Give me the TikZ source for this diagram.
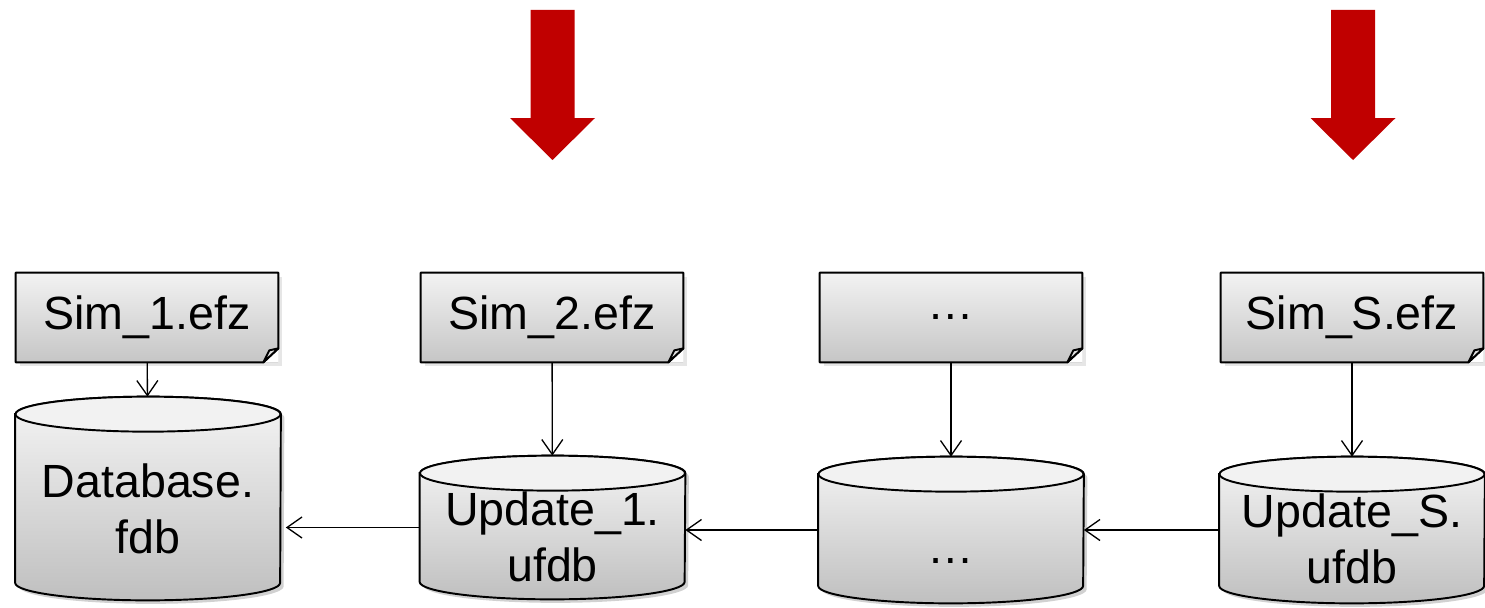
\documentclass[tikz,border=0pt]{standalone}
\usepackage{fontspec}
\setmainfont{Liberation Sans}
\usetikzlibrary{arrows.meta,shadows,backgrounds}
\definecolor{darkred}{HTML}{C00000}
\begin{document}
\begin{tikzpicture}[font=\fontsize{26.5}{32}\selectfont]
    \tikzstyle{every node}=[align=center, inner sep=0pt]
    \tikzstyle{doc}=[rectangle, minimum width=5.24cm, minimum height=1.78cm, top color=gray!10, bottom color=gray!45, drop shadow={opacity=0.2, shadow xshift=0.07cm, shadow yshift=-0.07cm}]
    \tikzstyle{db}=[rectangle, minimum width=5.3cm]
    \tikzstyle{flow}=[line width=0.75pt, -{Straight Barb[length=0.3cm, width=0.42cm]}]
    \useasboundingbox (0,0) rectangle (29.7,12.14);
    % red arrows on top
    \foreach \x in {11.05,27.06}
        \fill[darkred] (\x-0.44,11.94) -- (\x+0.44,11.94) -- (\x+0.44,9.78) -- (\x+0.85,9.78) -- (\x,8.94) -- (\x-0.85,9.78) -- (\x-0.44,9.78) -- cycle;
    % simulation files
    \node [doc] (sim1) at (2.94,5.79) {Sim\_1.efz};
    \node [doc] (sim2) at (11.04,5.79) {Sim\_2.efz};
    \node [doc] (simdots) at (19.02,5.79) {…};
    \node [doc] (simS) at (27.04,5.79) {Sim\_S.efz};
    \foreach \n in {sim1,sim2,simdots,simS}{
        \fill[white] ([yshift=0.28cm]\n.south east) -- (\n.south east) -- ([xshift=-0.3cm]\n.south east) -- cycle;
        \draw[line width=1.1pt, line join=round] (\n.north west) -- (\n.north east) -- ([yshift=0.28cm]\n.south east) -- ([xshift=-0.3cm]\n.south east) -- (\n.south west) -- cycle;
        \filldraw[fill=gray!25, line width=1.1pt, line join=round] ([yshift=0.28cm]\n.south east) -- ([xshift=-0.18cm,yshift=0.24cm]\n.south east) -- ([xshift=-0.3cm]\n.south east) -- cycle;
    }
    % databases
    \node [db, minimum height=4.06cm, label={[yshift=-0.2cm]center:{Database.\\fdb}}] (db) at (2.96,2.17) {};
    \node [db, minimum height=2.86cm, label={[yshift=-0.18cm]center:{Update\_1.\\ufdb}}] (upd1) at (11.05,1.59) {};
    \node [db, minimum height=2.92cm, label={[yshift=-0.62cm]center:{…}}] (upddots) at (19.02,1.54) {};
    \node [db, minimum height=2.92cm, label={[yshift=-0.18cm]center:{Update\_S.\\ufdb}}] (updS) at (27.04,1.54) {};
    \begin{pgfonlayer}{background}
    \foreach \n in {db,upd1,upddots,updS}{
        \fill[black, opacity=0.18, transform canvas={shift={(0.07,-0.07)}}] ([yshift=-0.35cm]\n.north west) -- ([yshift=0.35cm]\n.south west) arc[start angle=180, end angle=360, x radius=2.65cm, y radius=0.35cm] -- ([yshift=-0.35cm]\n.north east) arc[start angle=0, end angle=180, x radius=2.65cm, y radius=0.35cm] -- cycle;
        \shade[top color=gray!8, bottom color=gray!50, draw, line width=1.1pt] ([yshift=-0.35cm]\n.north west) -- ([yshift=0.35cm]\n.south west) arc[start angle=180, end angle=360, x radius=2.65cm, y radius=0.35cm] -- ([yshift=-0.35cm]\n.north east) arc[start angle=0, end angle=180, x radius=2.65cm, y radius=0.35cm] -- cycle;
        \draw[fill=gray!10, line width=1.1pt] ([yshift=-0.35cm]\n.north) ellipse [x radius=2.65cm, y radius=0.35cm];
    }
    \end{pgfonlayer}
    % connectors
    \draw [flow] (sim1) -- (db);
    \draw [flow] (sim2) -- (upd1);
    \draw [flow] (simdots) -- (upddots);
    \draw [flow] (simS) -- (updS);
    \draw [flow, shorten >=0.1cm] (upd1.west) -- (db.east |- upd1.west);
    \draw [flow] (upddots.west) -- (upd1.east |- upddots.west);
    \draw [flow] (updS.west) -- (upddots.east |- updS.west);
\end{tikzpicture}
\end{document}
